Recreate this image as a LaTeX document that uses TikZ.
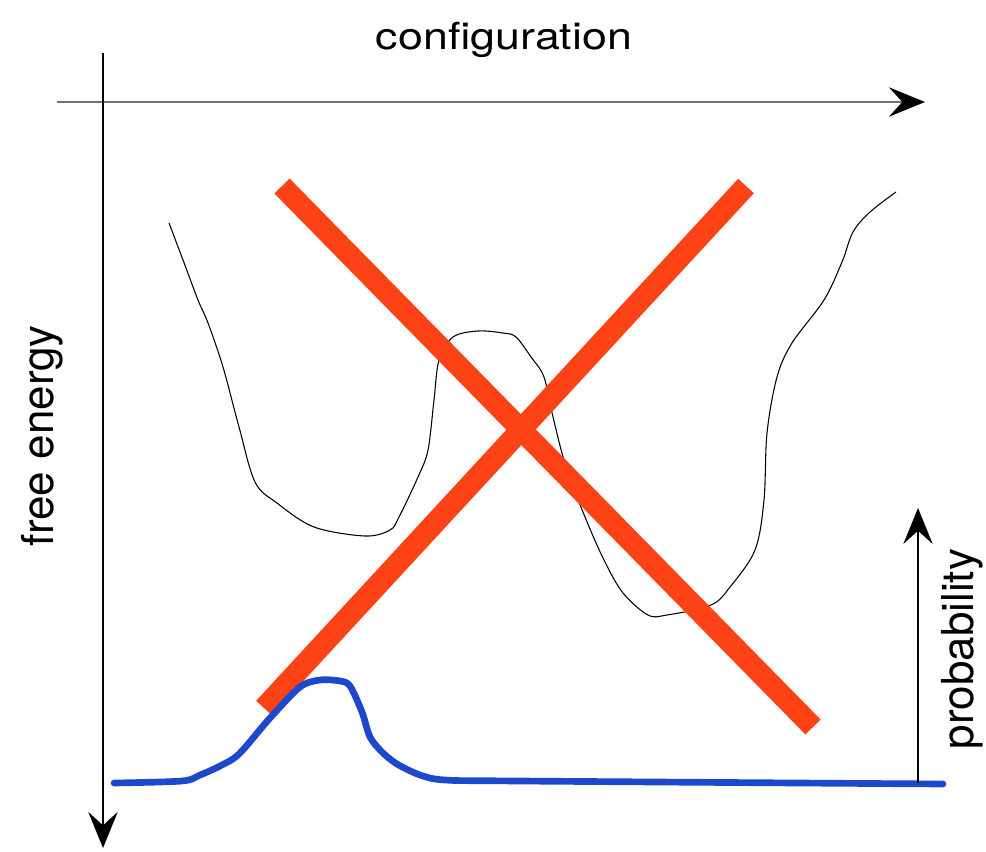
\documentclass[tikz,border=0pt]{standalone}
\usepackage{fontspec}
\setmainfont{TeX Gyre Heros}
\usetikzlibrary{arrows.meta}
\definecolor{crossred}{RGB}{253,66,22}
\definecolor{probblue}{RGB}{29,72,204}
\tikzset{
  feaxis/.style={-{Stealth[length=27pt, width=22pt, inset=10pt, color=black]}, line width=1.4pt},
  felabel/.style={font=\fontsize{33}{40}\selectfont, inner sep=0pt},
  fecurve/.style={line width=0.8pt},
  feprob/.style={line width=5pt, probblue, line join=round, line cap=round},
  fecross/.style={line width=16pt, crossred}
}

\begin{document}
\begin{tikzpicture}[x=0.75pt, y=-0.75pt]
\useasboundingbox (0,0) rectangle (986,851);
% axes
\coordinate (cfgstart) at (57,102);
\coordinate (cfgend) at (925,102);
\coordinate (festart) at (103,53);
\coordinate (feend) at (103,848);
\draw[feaxis, black!55, line width=2pt] (cfgstart) -- (cfgend);
\draw[feaxis] (festart) -- (feend);
\node[felabel, font=\fontsize{28}{32}\selectfont, anchor=base] (cfg) at (504,49) {\scalebox{1.2}[1]{configuration}};
\node[felabel, rotate=90, anchor=base] (fe) at (53,436) {free energy};
% free energy profile
\draw[fecurve] plot[smooth, tension=0.55] coordinates {
  (169,223) (183,260) (198,300) (208,323) (223,367) (239,427) (255,482)
  (277,503) (314,527) (365,536) (390,530) (399,517) (418,477) (428,450)
  (434,400) (439,360) (453,337) (478,331) (503,333) (516,337) (531,357)
  (544,377) (553,417) (566,467) (585,517) (604,560) (623,593) (648,615)
  (667,615) (711,605) (730,587) (755,550) (764,500) (767,433) (777,377)
  (792,343) (824,300) (842,262) (853,232) (870,212) (896,192)};
% the cross
\draw[fecross] (282,186) -- (813,727);
\draw[fecross] (746,186) -- (264,708);
% probability
\draw[feprob] plot[smooth, tension=0.5] coordinates {
  (114,783) (182,781) (200,775) (220,766) (239,754) (270,718) (300,687)
  (320,680) (340,681) (350,686) (362,712) (370,737) (382,752) (397,764)
  (420,775) (445,780) (520,781) (943,784)};
\coordinate (probbase) at (918,783);
\coordinate (probtop) at (918,508);
\draw[feaxis] (probbase) -- (probtop);
\node[felabel, rotate=90, anchor=base] (prob) at (973,649) {probability};
\end{tikzpicture}
\end{document}
